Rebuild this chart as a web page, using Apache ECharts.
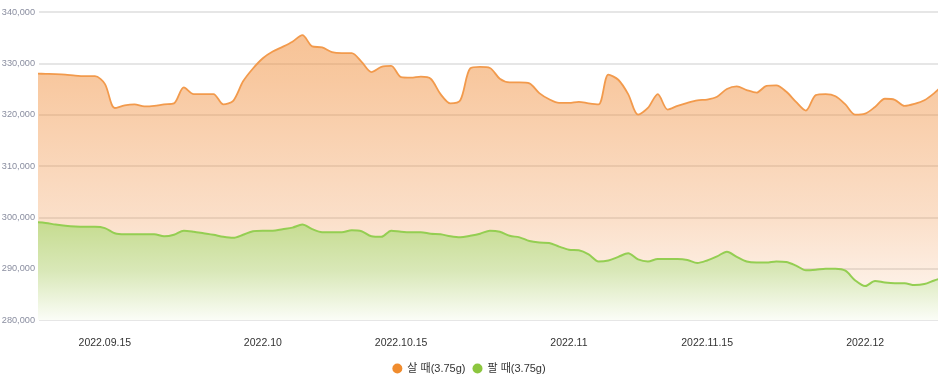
<!DOCTYPE html>
<html>
<head>
<meta charset="utf-8">
<script src="https://cdn.jsdelivr.net/npm/echarts@6/dist/echarts.min.js"></script>
<style>
html,body{margin:0;padding:0;background:#fff;}
#chart{width:938px;height:385px;}
</style>
</head>
<body>
<div id="chart"></div>
<script>
var dates = [
  '2022-09-08','2022-09-09','2022-09-10','2022-09-11','2022-09-12','2022-09-13','2022-09-14','2022-09-15','2022-09-16','2022-09-17','2022-09-18','2022-09-19','2022-09-20','2022-09-21','2022-09-22','2022-09-23','2022-09-24','2022-09-25','2022-09-26','2022-09-27','2022-09-28','2022-09-29','2022-09-30',
  '2022-10-01','2022-10-02','2022-10-03','2022-10-04','2022-10-05','2022-10-06','2022-10-07','2022-10-08','2022-10-09','2022-10-10','2022-10-11','2022-10-12','2022-10-13','2022-10-14','2022-10-15','2022-10-16','2022-10-17','2022-10-18','2022-10-19','2022-10-20','2022-10-21','2022-10-22','2022-10-23','2022-10-24','2022-10-25','2022-10-26','2022-10-27','2022-10-28','2022-10-29','2022-10-30','2022-10-31',
  '2022-11-01','2022-11-02','2022-11-03','2022-11-04','2022-11-05','2022-11-06','2022-11-07','2022-11-08','2022-11-09','2022-11-10','2022-11-11','2022-11-12','2022-11-13','2022-11-14','2022-11-15','2022-11-16','2022-11-17','2022-11-18','2022-11-19','2022-11-20','2022-11-21','2022-11-22','2022-11-23','2022-11-24','2022-11-25','2022-11-26','2022-11-27','2022-11-28','2022-11-29','2022-11-30',
  '2022-12-01','2022-12-02','2022-12-03','2022-12-04','2022-12-05','2022-12-06','2022-12-07','2022-12-08','2022-12-09'
];

var buyPrice = [
  328000,327950,327900,327800,327600,327500,327500,326000,321300,321800,322000,321600,321700,322000,322200,325300,324000,324000,324000,322000,322700,326500,329000,
  331000,332300,333200,334200,335500,333300,333100,332200,332000,332000,330300,328300,329300,329500,327300,327200,327400,327000,324000,322200,322800,329000,329300,329100,327000,326300,326300,326100,324200,323000,322300,
  322300,322500,322200,322000,327800,326800,324000,320000,321300,324000,321000,321700,322300,322800,322950,323500,325000,325500,324800,324300,325600,325700,324500,322500,320800,323800,324000,323600,322000,320000,
  320200,321500,323100,322900,321700,322100,322800,324200,326000
];

var sellPrice = [
  299050,298900,298600,298350,298200,298150,298150,297900,296900,296700,296700,296700,296700,296300,296600,297400,297200,296900,296600,296200,296000,296600,297300,
  297400,297400,297700,298000,298600,297700,297100,297100,297100,297500,297300,296300,296200,297400,297200,297100,297100,296800,296700,296300,296100,296400,296800,297400,297200,296400,296100,295400,295100,295000,294300,
  293700,293600,292800,291400,291600,292300,293000,291800,291400,291900,291900,291900,291700,291100,291600,292400,293300,292300,291400,291200,291200,291400,291300,290600,289700,289800,290000,290000,289600,287700,
  286600,287600,287300,287150,287150,286800,287000,287700,288300
];

var tickDates = ['2022-09-15','2022-10-01','2022-10-15','2022-11-01','2022-11-15','2022-12-01'];
var tickLabels = ['2022.09.15','2022.10','2022.10.15','2022.11','2022.11.15','2022.12'];

var seriesNames = ['살 때(3.75g)', '팔 때(3.75g)'];

var FONT = "'Liberation Sans', Arial, 'Noto Sans CJK KR', sans-serif";

var tickIdx = tickDates.map(function (d) { return dates.indexOf(d); });
var labelMap = {};
tickIdx.forEach(function (ix, k) { labelMap[ix] = tickLabels[k]; });

function pairs(arr) { return arr.map(function (v, i) { return [i, v]; }); }

var chart = echarts.init(document.getElementById('chart'), null, {renderer: 'canvas'});
chart.setOption({
  animation: false,
  backgroundColor: '#ffffff',
  grid: {left: 39, right: 0, top: 12, bottom: 65, outerBoundsMode: 'none', containLabel: false},
  legend: {
    data: seriesNames,
    left: 'center',
    top: 358,
    icon: 'circle',
    itemWidth: 10,
    itemHeight: 10,
    itemGap: 7,
    textStyle: {fontFamily: FONT, fontSize: 11, color: '#333'}
  },
  xAxis: {
    type: 'value',
    min: 0.33,
    max: 91.38,
    axisLine: {show: false},
    axisTick: {show: false},
    splitLine: {show: false},
    axisLabel: {
      customValues: tickIdx,
      formatter: function (v) { return labelMap[Math.round(v)] || ''; },
      margin: 18,
      fontFamily: FONT,
      fontSize: 10.5,
      color: '#333'
    }
  },
  yAxis: {
    type: 'value',
    min: 280000,
    max: 340000,
    interval: 10000,
    axisLine: {show: false},
    axisTick: {show: false},
    splitLine: {lineStyle: {color: '#e6e6e6', width: 2}},
    axisLabel: {
      formatter: function (v) { return v.toLocaleString('en-US'); },
      margin: 4,
      fontFamily: FONT,
      fontSize: 9.2,
      color: '#8a8ea0'
    }
  },
  series: [
    {
      name: seriesNames[0],
      type: 'line',
      data: pairs(buyPrice),
      smooth: 0.3,
      symbol: 'none',
      clip: true,
      color: '#f08c2e',
      lineStyle: {color: '#f29a4c', width: 1.8},
      areaStyle: {
        origin: 'start',
        opacity: 1,
        color: new echarts.graphic.LinearGradient(0, 0, 0, 1, [
          {offset: 0, color: 'rgba(240,140,55,0.52)'},
          {offset: 0.15, color: 'rgba(240,140,55,0.48)'},
          {offset: 0.64, color: 'rgba(240,140,60,0.28)'},
          {offset: 1, color: 'rgba(240,140,60,0.05)'}
        ])
      }
    },
    {
      name: seriesNames[1],
      type: 'line',
      data: pairs(sellPrice),
      smooth: 0.3,
      symbol: 'none',
      clip: true,
      color: '#8cc63f',
      lineStyle: {color: '#94ce52', width: 2},
      areaStyle: {
        origin: 'start',
        opacity: 1,
        color: new echarts.graphic.LinearGradient(0, 0, 0, 1, [
          {offset: 0, color: '#c6dc90'},
          {offset: 0.5, color: '#d9e8b8'},
          {offset: 1, color: '#fbfdf7'}
        ])
      }
    }
  ]
});
</script>
</body>
</html>
